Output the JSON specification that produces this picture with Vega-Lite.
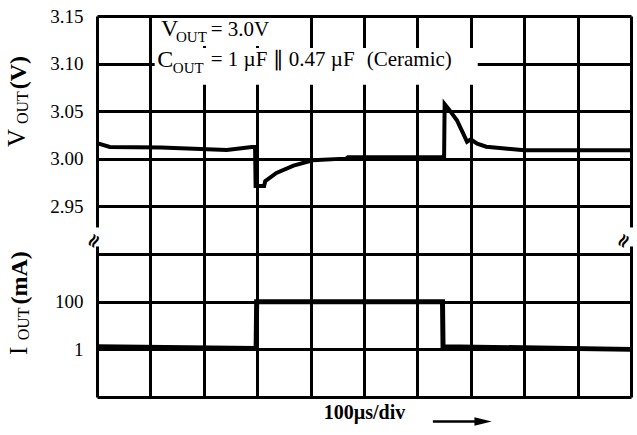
{
  "$schema": "https://vega.github.io/schema/vega-lite/v6.json",
  "width": 534,
  "height": 381,
  "autosize": {"type": "none"},
  "padding": {"left": 97, "top": 16, "right": 6, "bottom": 38},
  "config": {"view": {"stroke": null}, "font": "Liberation Serif"},
  "datasets": {
    "voltage": [
      {"t": 0, "v": 3.0165}, {"t": 24, "v": 3.0125}, {"t": 120, "v": 3.012}, {"t": 243, "v": 3.0093},
      {"t": 290, "v": 3.0125}, {"t": 296, "v": 3.0125}, {"t": 297, "v": 2.9716}, {"t": 313, "v": 2.9716},
      {"t": 315, "v": 2.9765}, {"t": 336, "v": 2.9852}, {"t": 368, "v": 2.9929}, {"t": 404, "v": 2.9985},
      {"t": 455, "v": 3.0}, {"t": 466, "v": 3.0}, {"t": 470, "v": 3.0018}, {"t": 650, "v": 3.0018},
      {"t": 651, "v": 3.0576}, {"t": 659, "v": 3.052}, {"t": 674, "v": 3.0406}, {"t": 683, "v": 3.03},
      {"t": 693, "v": 3.018}, {"t": 700, "v": 3.0205}, {"t": 712, "v": 3.016}, {"t": 729, "v": 3.0128},
      {"t": 759, "v": 3.0112}, {"t": 800, "v": 3.0091}, {"t": 1000, "v": 3.0091}
    ],
    "current": [
      {"t": 0, "i": 1.3}, {"t": 298, "i": 1.1}, {"t": 299, "i": 100}, {"t": 647, "i": 100},
      {"t": 648, "i": 1.3}, {"t": 1000, "i": 1.0}
    ],
    "boxes": [
      {"t": 108, "t2": 380, "v": 3.148, "v2": 3.1185},
      {"t": 108, "t2": 713, "v": 3.1165, "v2": 3.0777},
      {"t": -6, "t2": 6, "v": 2.908, "v2": 2.928},
      {"t": 994, "t2": 1006, "v": 2.908, "v2": 2.928}
    ],
    "breaks": [
      {"t": -6, "v": 2.914, "label": "≈"},
      {"t": 986, "v": 2.914, "label": "≈"}
    ],
    "annBig": [
      {"t": 120, "v": 3.1286, "label": "V"},
      {"t": 113, "v": 3.0965, "label": "C"}
    ],
    "annSub": [
      {"t": 148, "v": 3.1232, "label": "OUT"},
      {"t": 142, "v": 3.090, "label": "OUT"}
    ],
    "annMid": [
      {"t": 213, "v": 3.129, "label": "= 3.0V"},
      {"t": 213, "v": 3.097, "label": "= 1 µF ∥ 0.47 µF"},
      {"t": 505, "v": 3.097, "label": "(Ceramic)"}
    ],
    "titleMain": [
      {"t": -135, "v": 3.0125, "label": "V"},
      {"t": -131, "v": 2.794, "label": "I"}
    ],
    "titleSub": [
      {"t": -129, "v": 3.0366, "label": "OUT"},
      {"t": -127, "v": 2.8095, "label": "OUT"}
    ],
    "titleUnit": [
      {"t": -133, "v": 3.073, "label": "(V)"},
      {"t": -131, "v": 2.847, "label": "(mA)"}
    ],
    "arrow": [
      {"t": 629, "t2": 708, "v": 2.7243}
    ],
    "arrowHead": [
      {"t": 723, "v": 2.7243}
    ]
  },
  "encoding": {
    "x": {
      "field": "t",
      "type": "quantitative",
      "scale": {"domain": [0, 1000], "nice": false, "zero": false},
      "axis": {
        "values": [0, 100, 200, 300, 400, 500, 600, 700, 800, 900, 1000],
        "grid": true, "gridColor": "black", "gridWidth": 3, "gridOpacity": 1,
        "labels": false, "ticks": false, "domain": false,
        "title": "100µs/div", "titleFont": "Liberation Serif", "titleFontSize": 20,
        "titleFontWeight": "bold", "titleColor": "black", "titlePadding": 5
      }
    }
  },
  "layer": [
    {
      "encoding": {
        "y": {
          "field": "v",
          "type": "quantitative",
          "scale": {"domain": [2.75, 3.15], "nice": false, "zero": false},
          "axis": {
            "values": [2.75, 2.8, 2.85, 2.9, 2.95, 3.0, 3.05, 3.1, 3.15],
            "grid": true, "gridColor": "black", "gridWidth": 3, "gridOpacity": 1,
            "ticks": false, "domain": false, "title": null,
            "labelExpr": "datum.value > 2.94 ? format(datum.value, '.2f') : ''",
            "labelFont": "Liberation Serif", "labelFontSize": 19, "labelColor": "black",
            "labelPadding": 14
          }
        }
      },
      "layer": [
        {
          "data": {"name": "boxes"},
          "mark": {"type": "rect", "color": "white", "opacity": 1},
          "encoding": {"x2": {"field": "t2"}, "y2": {"field": "v2"}}
        },
        {
          "data": {"name": "voltage"},
          "mark": {"type": "line", "color": "black", "strokeWidth": 4}
        },
        {
          "data": {"name": "breaks"},
          "mark": {"type": "text", "font": "DejaVu Sans", "fontSize": 19, "fontWeight": "bold", "angle": 300, "align": "center", "baseline": "middle", "color": "black"},
          "encoding": {"text": {"field": "label"}}
        },
        {
          "data": {"name": "annBig"},
          "mark": {"type": "text", "font": "Liberation Serif", "fontSize": 24, "align": "left", "baseline": "alphabetic", "color": "black"},
          "encoding": {"text": {"field": "label"}}
        },
        {
          "data": {"name": "annSub"},
          "mark": {"type": "text", "font": "Liberation Serif", "fontSize": 15, "align": "left", "baseline": "alphabetic", "color": "black"},
          "encoding": {"text": {"field": "label"}}
        },
        {
          "data": {"name": "annMid"},
          "mark": {"type": "text", "font": "Liberation Serif", "fontSize": 21, "align": "left", "baseline": "alphabetic", "color": "black"},
          "encoding": {"text": {"field": "label"}}
        },
        {
          "data": {"name": "titleMain"},
          "mark": {"type": "text", "font": "Liberation Serif", "fontSize": 25, "angle": 270, "align": "left", "baseline": "alphabetic", "color": "black"},
          "encoding": {"text": {"field": "label"}}
        },
        {
          "data": {"name": "titleSub"},
          "mark": {"type": "text", "font": "Liberation Serif", "fontSize": 16, "angle": 270, "align": "left", "baseline": "alphabetic", "color": "black"},
          "encoding": {"text": {"field": "label"}}
        },
        {
          "data": {"name": "titleUnit"},
          "mark": {"type": "text", "font": "Liberation Serif", "fontSize": 24, "fontWeight": "bold", "angle": 270, "align": "left", "baseline": "alphabetic", "color": "black"},
          "encoding": {"text": {"field": "label"}}
        },
        {
          "data": {"name": "arrow"},
          "mark": {"type": "rule", "color": "black", "strokeWidth": 2.5},
          "encoding": {"x2": {"field": "t2"}}
        },
        {
          "data": {"name": "arrowHead"},
          "mark": {"type": "point", "shape": "M-1,-0.5L1,0L-1,0.5Z", "filled": true, "color": "black", "opacity": 1, "size": 300}
        }
      ]
    },
    {
      "data": {"name": "current"},
      "mark": {"type": "line", "color": "black", "strokeWidth": 5},
      "encoding": {
        "y": {
          "field": "i",
          "type": "quantitative",
          "scale": {"type": "log", "domain": [0.01, 100000000000000], "nice": false},
          "axis": {
            "orient": "left",
            "values": [1, 100],
            "format": "d",
            "grid": false, "ticks": false, "domain": false, "title": null,
            "labelFont": "Liberation Serif", "labelFontSize": 19, "labelColor": "black",
            "labelPadding": 14
          }
        }
      }
    }
  ],
  "resolve": {"scale": {"y": "independent"}}
}
